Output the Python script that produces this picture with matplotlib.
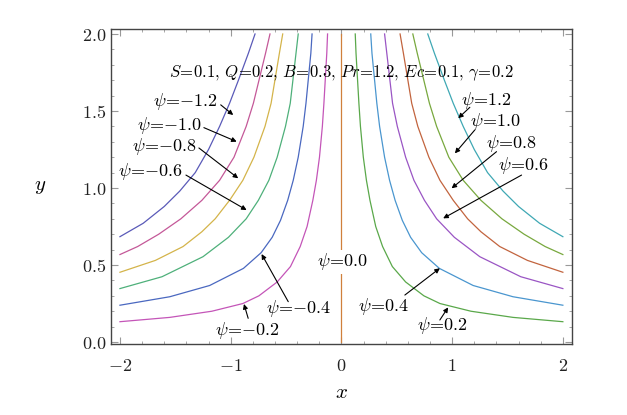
import matplotlib
matplotlib.use("Agg")
import matplotlib.pyplot as plt
import numpy as np

plt.rcParams['mathtext.fontset'] = 'cm'
plt.rcParams['font.family'] = 'DejaVu Serif'

# stream function levels (right side, psi > 0); left side is the mirror with psi < 0
psi_levels = [0.2, 0.4, 0.6, 0.8, 1.0, 1.2]

# points: (x, y) for psi > 0
curve_x = {
    0.2: [0.125, 0.132, 0.158, 0.172, 0.198, 0.226, 0.258, 0.31, 0.372, 0.46, 0.58, 0.745, 0.89, 1.17, 1.55, 2.0],
    0.4: [0.265, 0.276, 0.32, 0.345, 0.39, 0.435, 0.485, 0.55, 0.625, 0.725, 0.885, 1.19, 1.55, 2.0],
    0.6: [0.39, 0.41, 0.462, 0.505, 0.58, 0.655, 0.75, 0.86, 1.02, 1.25, 1.62, 2.0],
    0.8: [0.53, 0.56, 0.635, 0.69, 0.79, 0.89, 1.01, 1.14, 1.26, 1.43, 1.68, 2.0],
    1.0: [0.645, 0.685, 0.795, 0.86, 0.97, 1.1, 1.26, 1.45, 1.65, 1.84, 2.0],
    1.2: [0.78, 0.84, 0.93, 1.01, 1.1, 1.2, 1.32, 1.46, 1.6, 1.79, 2.0],
}
curve_y = {
    0.2: [2.0, 1.875, 1.55, 1.4, 1.2, 1.05, 0.92, 0.75, 0.62, 0.49, 0.39, 0.3, 0.25, 0.2, 0.16, 0.132],
    0.4: [2.0, 1.875, 1.55, 1.4, 1.2, 1.05, 0.92, 0.79, 0.68, 0.58, 0.478, 0.367, 0.294, 0.239],
    0.6: [2.0, 1.875, 1.55, 1.4, 1.2, 1.05, 0.92, 0.8, 0.68, 0.554, 0.424, 0.347],
    0.8: [2.0, 1.875, 1.55, 1.4, 1.2, 1.05, 0.92, 0.8, 0.716, 0.62, 0.53, 0.453],
    1.0: [2.0, 1.875, 1.55, 1.4, 1.2, 1.05, 0.92, 0.8, 0.7, 0.62, 0.568],
    1.2: [2.0, 1.875, 1.7, 1.55, 1.4, 1.25, 1.1, 0.98, 0.88, 0.771, 0.684],
}

colors_pos = {0.2: '#5aa84a', 0.4: '#4a96cf', 0.6: '#9a55c4', 0.8: '#c2643e', 1.0: '#78a83e', 1.2: '#3fa8b4'}
colors_neg = {0.2: '#c455b8', 0.4: '#4a68c0', 0.6: '#4eb07a', 0.8: '#d4b44a', 1.0: '#c45898', 1.2: '#5a5ab8'}
color_zero = '#d0803c'

x_ticks = [-2, -1, 0, 1, 2]
y_ticks = [0.0, 0.5, 1.0, 1.5, 2.0]

fig = plt.figure(figsize=(6.27, 4.15), dpi=100)
ax = fig.add_axes([0.177, 0.171, 0.735, 0.759])

for c in psi_levels:
    xs = np.array(curve_x[c])
    ys = np.array(curve_y[c])
    ax.plot(xs, ys, color=colors_pos[c], lw=0.9)
    ax.plot(-xs, ys, color=colors_neg[c], lw=0.9)
ax.plot([0, 0], [0, 2.0], color=color_zero, lw=0.9)

ax.set_xlim(-2.081, 2.081)
ax.set_ylim(-0.013, 2.032)
ax.set_xticks(x_ticks)
ax.set_xticklabels([rf'${t}$' for t in x_ticks])
ax.set_yticks(y_ticks)
ax.set_yticklabels([rf'${t:.1f}$' for t in y_ticks])
ax.set_xticks(np.arange(-2, 2.01, 0.2), minor=True)
ax.set_yticks(np.arange(0, 2.01, 0.1), minor=True)
ax.tick_params(which='both', direction='in', top=True, right=True, colors='#999999',
               labelcolor='#222222', labelsize=13)
ax.tick_params(axis='x', which='major', pad=9)
ax.tick_params(which='major', length=5, width=0.8)
ax.tick_params(which='minor', length=2.5, width=0.6)
for s in ax.spines.values():
    s.set_color('#444444')
    s.set_linewidth(1.0)

ax.set_xlabel(r'$x$', fontsize=15, labelpad=6)
ax.set_ylabel(r'$y$', fontsize=15, rotation=0, labelpad=30, va='center')

ax.text(0, 1.747, r'$S\!=\!0.1,\, Q\!=\!0.2,\, B\!=\!0.3,\, Pr\!=\!1.2,\, Ec\!=\!0.1,\, \gamma\!=\!0.2$',
        ha='center', va='center', fontsize=12)

# labels: text, text centre (x, y), arrow start (x, y), arrow tip (x, y)
labels = [
    (r'$\psi\!=\!{-}1.2$', (-1.409, 1.560), (-1.090, 1.540), (-0.977, 1.474)),
    (r'$\psi\!=\!{-}1.0$', (-1.549, 1.409), (-1.242, 1.392), (-0.946, 1.301)),
    (r'$\psi\!=\!{-}0.8$', (-1.598, 1.268), (-1.287, 1.260), (-0.932, 1.063)),
    (r'$\psi\!=\!{-}0.6$', (-1.725, 1.106), (-1.404, 1.084), (-0.856, 0.857)),
    (r'$\psi\!=\!{-}0.4$', (-0.382, 0.219), (-0.480, 0.262), (-0.721, 0.571)),
    (r'$\psi\!=\!{-}0.2$', (-0.849, 0.073), (-0.842, 0.154), (-0.880, 0.247)),
    (r'$\psi\!=\!1.2$', (1.311, 1.571), (1.160, 1.524), (1.055, 1.453)),
    (r'$\psi\!=\!1.0$', (1.393, 1.431), (1.205, 1.377), (1.025, 1.225)),
    (r'$\psi\!=\!0.8$', (1.537, 1.290), (1.401, 1.236), (0.995, 0.998)),
    (r'$\psi\!=\!0.6$', (1.648, 1.149), (1.627, 1.084), (0.919, 0.803)),
    (r'$\psi\!=\!0.4$', (0.384, 0.229), (0.573, 0.305), (0.889, 0.479)),
    (r'$\psi\!=\!0.2$', (0.916, 0.106), (0.889, 0.143), (0.964, 0.225)),
]
for txt, (tx, ty), (sx, sy), (ex, ey) in labels:
    ax.text(tx, ty, txt, fontsize=13, ha='center', va='center')
    ax.annotate('', xy=(ex, ey), xytext=(sx, sy),
                arrowprops=dict(arrowstyle='-|>', color='black', lw=0.8, mutation_scale=7,
                                shrinkA=0, shrinkB=0))

ax.text(0.01, 0.52, r'$\psi\!=\!0.0$', ha='center', va='center', fontsize=13,
        bbox=dict(facecolor='white', edgecolor='none', pad=1))

fig.savefig('out.png', dpi=100)
